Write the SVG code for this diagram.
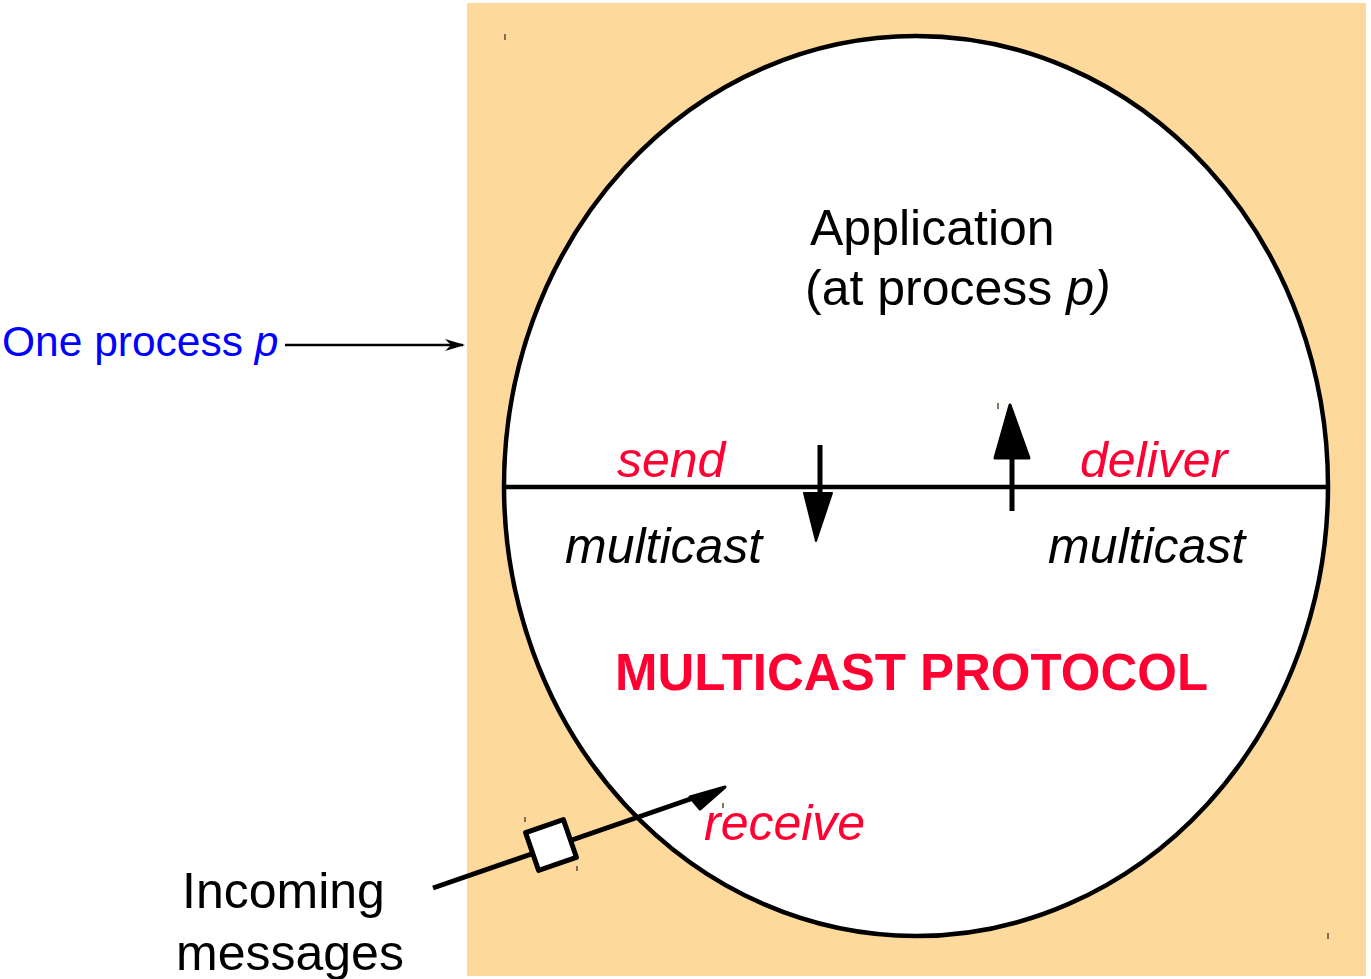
<svg xmlns="http://www.w3.org/2000/svg" width="1371" height="979" viewBox="0 0 1371 979">
  <style>
    .t { font-family: "Liberation Sans", Arial, sans-serif; font-size: 50px; }
    .red { fill: #FF0033; }
    .it { font-style: italic; }
    .big { font-size: 51px; font-weight: bold; }
    .blue { font-size: 42.5px; fill: #0000FF; }
    .ln { stroke: #000; fill: none; }
    .tick { stroke: #5a4a30; stroke-width: 1.5; }
  </style>
  <defs>
    <marker id="openhead" viewBox="0 0 20 12" refX="18" refY="6" markerWidth="20" markerHeight="12" markerUnits="userSpaceOnUse" orient="auto">
      <path d="M0,0 L20,6 L0,12 L6,6 Z" fill="#000"/>
    </marker>
  </defs>
  <rect width="1371" height="979" fill="#fff"/>

  <!-- process p: shaded box with the protocol stack circle -->
  <g id="process">
    <rect x="467" y="3" width="899" height="973" fill="#FDDA9B"/>
    <ellipse cx="916" cy="486" rx="412" ry="450" fill="#fff" stroke="#000" stroke-width="4.5"/>
    <line x1="505" y1="487" x2="1327" y2="487" stroke="#000" stroke-width="4.5"/>
    <line class="tick" x1="505" y1="34" x2="505" y2="40"/>
    <line class="tick" x1="1328" y1="933" x2="1328" y2="939"/>
  </g>

  <g id="application">
    <text class="t" x="810" y="245">Application</text>
    <text class="t" x="805" y="305">(at process <tspan class="it">p)</tspan></text>
  </g>

  <g id="protocol">
    <text class="t red big" x="615" y="690">MULTICAST PROTOCOL</text>
  </g>

  <g id="labels">
    <text class="t red it" x="617" y="477">send</text>
    <text class="t red it" x="1080" y="477">deliver</text>
    <text class="t it" x="565" y="563">multicast</text>
    <text class="t it" x="1048" y="563">multicast</text>
    <text class="t red it" x="704" y="840">receive</text>
  </g>

  <g id="process-label">
    <text class="t blue" x="2" y="356">One process <tspan class="it">p</tspan></text>
  </g>

  <g id="incoming">
    <text class="t" x="182" y="908">Incoming</text>
    <text class="t" x="176" y="970">messages</text>
  </g>

  <g id="connectors">
    <!-- pointer to the process box -->
    <line class="ln" x1="285" y1="345" x2="463" y2="345" stroke-width="2.5" marker-end="url(#openhead)"/>

    <!-- multicast send: down through the layer boundary -->
    <line class="ln" x1="820" y1="445" x2="820" y2="495" stroke-width="5"/>
    <path d="M804,493 L832,493 L816,541 Z" fill="#000" stroke="#000" stroke-width="2" stroke-linejoin="round"/>

    <!-- multicast deliver: up through the layer boundary -->
    <line class="ln" x1="1012" y1="458" x2="1012" y2="511" stroke-width="5"/>
    <path d="M995,458 L1029,458 L1010,405 Z" fill="#000" stroke="#000" stroke-width="3" stroke-linejoin="round"/>
    <line class="tick" x1="998" y1="403" x2="998" y2="409"/>

    <!-- incoming message path into the protocol layer -->
    <line class="ln" x1="433" y1="888" x2="702" y2="795" stroke-width="5"/>
    <path d="M690,797 L725,787 L700,809 Z" fill="#000" stroke="#000" stroke-width="3" stroke-linejoin="round"/>
    <rect x="-20" y="-20" width="40" height="40" transform="translate(551,845) rotate(-19)" fill="#fff" stroke="#000" stroke-width="5" stroke-linejoin="round"/>
    <line class="tick" x1="525" y1="817" x2="525" y2="822"/>
    <line class="tick" x1="577" y1="866" x2="577" y2="871"/>
    <line class="tick" x1="723" y1="803" x2="723" y2="808"/>
  </g>
</svg>
